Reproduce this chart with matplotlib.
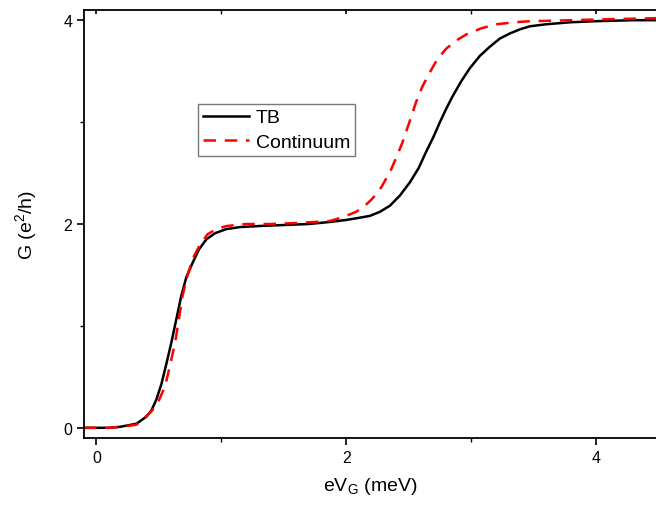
import matplotlib
matplotlib.use("Agg")
import matplotlib.pyplot as plt
from matplotlib.ticker import MultipleLocator

plt.rcParams['font.family'] = ['Liberation Sans', 'DejaVu Sans']

# TB curve (black solid)
tb_x = [-0.10, 0.00, 0.10, 0.19, 0.32, 0.40, 0.44, 0.48, 0.52, 0.56, 0.60, 0.64,
        0.68, 0.72, 0.77, 0.82, 0.88, 0.95, 1.04, 1.15, 1.30, 1.50, 1.70, 1.87,
        2.00, 2.10, 2.19, 2.27, 2.35, 2.43, 2.51, 2.58, 2.64, 2.70, 2.75, 2.80,
        2.85, 2.92, 2.99, 3.07, 3.15, 3.23, 3.31, 3.39, 3.47, 3.60, 3.80, 4.00,
        4.30, 4.50]
tb_y = [0.00, 0.00, 0.00, 0.01, 0.04, 0.11, 0.17, 0.28, 0.43, 0.63, 0.84, 1.07,
        1.30, 1.48, 1.62, 1.75, 1.85, 1.91, 1.95, 1.97, 1.98, 1.99, 2.00, 2.02,
        2.04, 2.06, 2.08, 2.12, 2.18, 2.28, 2.41, 2.55, 2.71, 2.86, 3.00, 3.13,
        3.25, 3.40, 3.53, 3.65, 3.74, 3.82, 3.87, 3.91, 3.94, 3.96, 3.98, 3.99,
        4.00, 4.00]

# Continuum curve (red dashed)
ct_x = [-0.10, 0.00, 0.10, 0.20, 0.32, 0.44, 0.50, 0.55, 0.59, 0.63, 0.66, 0.69,
        0.73, 0.77, 0.83, 0.89, 0.96, 1.04, 1.20, 1.40, 1.60, 1.75, 1.87, 1.98,
        2.08, 2.15, 2.21, 2.28, 2.35, 2.40, 2.45, 2.50, 2.56, 2.61, 2.67, 2.73,
        2.80, 2.88, 2.96, 3.08, 3.20, 3.35, 3.47, 3.80, 4.10, 4.50]
ct_y = [0.00, 0.00, 0.00, 0.01, 0.03, 0.16, 0.27, 0.41, 0.62, 0.84, 1.07, 1.30,
        1.50, 1.66, 1.80, 1.90, 1.95, 1.98, 2.00, 2.00, 2.01, 2.02, 2.03, 2.07,
        2.12, 2.18, 2.25, 2.36, 2.51, 2.65, 2.80, 2.98, 3.20, 3.35, 3.49, 3.62,
        3.72, 3.80, 3.86, 3.92, 3.96, 3.98, 3.99, 4.00, 4.01, 4.02]

fig = plt.figure(figsize=(6.56, 5.06), dpi=100)
ax = fig.add_axes([84/656, 67/506, 1 - 84/656, 428/506])

ax.plot(tb_x, tb_y, color='black', lw=1.8, label='TB')
ax.plot(ct_x, ct_y, color='red', lw=1.8, dashes=(5, 3.5), label='Continuum')

ax.set_xlim(-0.10, 4.48)
ax.set_ylim(-0.10, 4.10)

ax.xaxis.set_major_locator(MultipleLocator(2))
ax.xaxis.set_minor_locator(MultipleLocator(1))
ax.yaxis.set_major_locator(MultipleLocator(2))
ax.yaxis.set_minor_locator(MultipleLocator(1))
ax.tick_params(which='major', direction='out', length=5, width=1.2, labelsize=11.5,
               right=False)
ax.tick_params(which='minor', direction='out', length=3, width=1.0)
ax.tick_params(axis='x', which='major', top=True)
ax.tick_params(axis='x', which='minor', top=True)
for s in ax.spines.values():
    s.set_linewidth(1.3)
ax.spines['right'].set_visible(False)
# top ticks point inward
for t in ax.xaxis.get_major_ticks() + ax.xaxis.get_minor_ticks():
    t.tick2line.set_marker(3)  # TICKDOWN
    t.tick2line.set_markersize(3)

ax.set_xlabel(r'eV$_\mathregular{G}$ (meV)', fontsize=14, labelpad=7)
ax.set_ylabel(r'G (e$^\mathregular{2}$/h)', fontsize=14, labelpad=17)

leg = ax.legend(loc='upper left', bbox_to_anchor=((198-84)/572, (439-105)/428),
                borderaxespad=0, fontsize=14, frameon=True, fancybox=False,
                edgecolor='#555555', handlelength=2.37, handletextpad=0.36,
                labelspacing=0.35, borderpad=0.25)
leg.get_frame().set_linewidth(1.0)

fig.savefig('out.png', dpi=100)
